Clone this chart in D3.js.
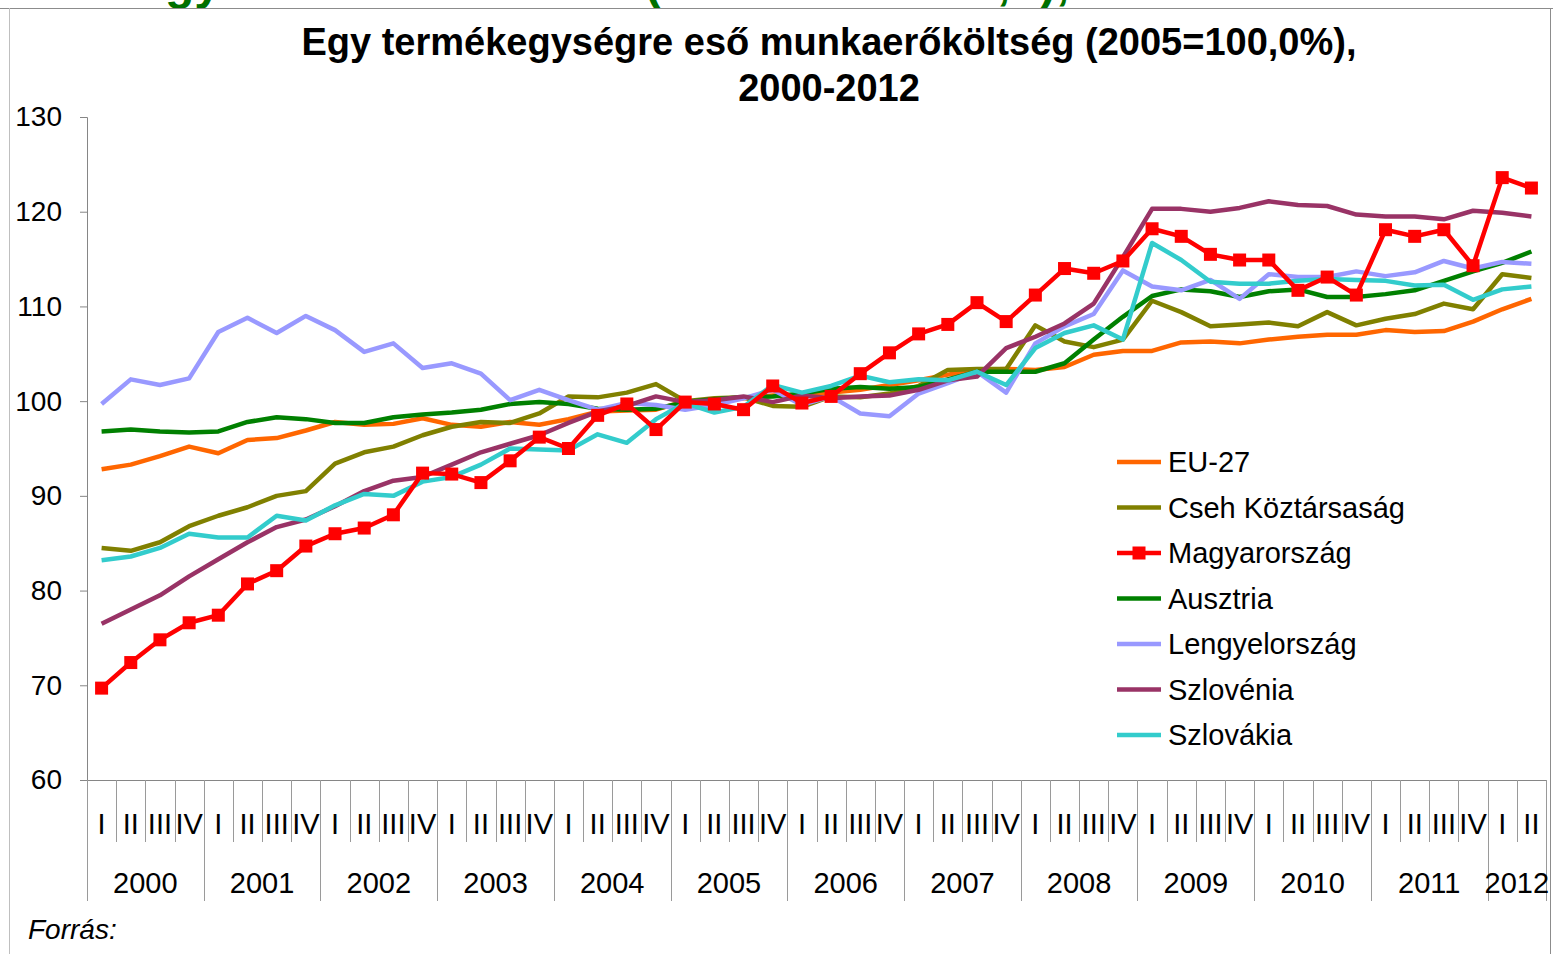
<!DOCTYPE html>
<html>
<head>
<meta charset="utf-8">
<script src="https://cdn.jsdelivr.net/npm/d3@7"></script>
<style>
  body { margin: 0; background: #fff; }
  svg { display: block; font-family: "Liberation Sans", Arial, sans-serif; }
</style>
</head>
<body>
<svg id="chart" width="1553" height="954"></svg>
<script>
/*******************************************************************************************/
// Data (2000 Q1 .. 2012 Q2, 2005 = 100)

var quarterNames = ['I', 'II', 'III', 'IV'];
var years = [2000, 2001, 2002, 2003, 2004, 2005, 2006, 2007, 2008, 2009, 2010, 2011, 2012];
var yTicks = [60, 70, 80, 90, 100, 110, 120, 130];

var eu27 = [92.8, 93.3, 94.2, 95.2, 94.5, 95.9, 96.1, 96.9, 97.8, 97.5,
            97.6, 98.2, 97.5, 97.3, 97.8, 97.5, 98.1, 98.9, 99.0, 99.1,
            100.0, 100.1, 100.3, 100.6, 100.6, 100.9, 101.2, 101.7, 102.2, 102.8,
            103.3, 103.4, 103.3, 103.6, 104.9, 105.3, 105.3, 106.2, 106.3, 106.1,
            106.5, 106.8, 107.0, 107.0, 107.5, 107.3, 107.4, 108.4, 109.7, 110.8];
var cseh = [84.5, 84.2, 85.1, 86.8, 87.9, 88.8, 90.0, 90.5, 93.4, 94.6,
            95.2, 96.4, 97.3, 97.8, 97.7, 98.7, 100.5, 100.4, 100.9, 101.8,
            100.0, 100.3, 100.4, 99.5, 99.4, 100.5, 100.4, 100.8, 101.6, 103.3,
            103.4, 103.4, 108.0, 106.3, 105.7, 106.5, 110.6, 109.4, 107.9, 108.1,
            108.3, 107.9, 109.4, 108.0, 108.7, 109.2, 110.3, 109.7, 113.4, 113.0];
var magyar = [69.7, 72.4, 74.8, 76.6, 77.4, 80.7, 82.1, 84.7, 86.0, 86.6,
              88.0, 92.4, 92.3, 91.4, 93.7, 96.2, 95.0, 98.5, 99.7, 97.0,
              99.9, 99.7, 99.1, 101.6, 99.8, 100.5, 102.9, 105.1, 107.1, 108.1,
              110.4, 108.4, 111.2, 114.0, 113.5, 114.8, 118.2, 117.4, 115.5, 114.9,
              114.9, 111.7, 113.1, 111.2, 118.1, 117.4, 118.1, 114.3, 123.6, 122.5];
var ausztria = [96.8, 97.0, 96.8, 96.7, 96.8, 97.8, 98.3, 98.1, 97.7, 97.7,
                98.3, 98.6, 98.8, 99.1, 99.7, 99.9, 99.7, 99.2, 99.1, 99.2,
                99.9, 100.2, 100.4, 100.5, 100.8, 101.3, 101.5, 101.3, 101.5, 102.3,
                103.1, 103.1, 103.1, 104.0, 106.5, 108.9, 111.1, 111.8, 111.6, 111.0,
                111.6, 111.8, 111.0, 111.0, 111.3, 111.7, 112.7, 113.7, 114.6, 115.8];
var lengyel = [99.7, 102.3, 101.7, 102.4, 107.3, 108.8, 107.2, 109.0, 107.5, 105.2,
               106.1, 103.5, 104.0, 102.9, 100.1, 101.2, 100.1, 99.1, 99.8, 99.6,
               99.1, 99.6, 100.3, 101.2, 99.6, 100.5, 98.7, 98.4, 100.8, 101.9,
               103.1, 100.9, 106.1, 107.9, 109.2, 113.8, 112.1, 111.7, 112.8, 110.8,
               113.4, 113.1, 113.1, 113.7, 113.2, 113.6, 114.8, 114.0, 114.7, 114.5];
var szloven = [76.5, 78.0, 79.5, 81.5, 83.3, 85.1, 86.7, 87.5, 88.9, 90.5,
               91.6, 92.0, 93.3, 94.6, 95.5, 96.4, 97.7, 98.9, 99.5, 100.5,
               99.9, 100.1, 100.5, 99.9, 100.6, 100.3, 100.5, 100.6, 101.2, 102.2,
               102.6, 105.6, 106.8, 108.2, 110.3, 115.2, 120.3, 120.3, 120.0, 120.4,
               121.1, 120.7, 120.6, 119.7, 119.5, 119.5, 119.2, 120.1, 119.9, 119.5];
var szlovak = [83.2, 83.6, 84.5, 86.0, 85.6, 85.6, 87.9, 87.4, 89.0, 90.2,
               90.0, 91.5, 92.0, 93.3, 95.0, 94.9, 94.8, 96.5, 95.6, 98.1,
               99.8, 98.8, 99.4, 101.7, 100.9, 101.6, 102.7, 102.0, 102.3, 102.2,
               103.1, 101.7, 105.6, 107.2, 108.0, 106.5, 116.7, 114.9, 112.6, 112.4,
               112.4, 112.7, 112.9, 112.8, 112.7, 112.2, 112.3, 110.7, 111.8, 112.1];

// legend order; Hungary gets drawn last so its markers sit on top
var series = [
  { name: 'EU-27', values: eu27, color: '#FF6600' },
  { name: 'Cseh Köztársaság', values: cseh, color: '#808000' },
  { name: 'Magyarország', values: magyar, color: '#FF0000', marker: true },
  { name: 'Ausztria', values: ausztria, color: '#008000' },
  { name: 'Lengyelország', values: lengyel, color: '#9999FF' },
  { name: 'Szlovénia', values: szloven, color: '#993366' },
  { name: 'Szlovákia', values: szlovak, color: '#33CCCC' }
];

// quarter list 2000 I .. 2012 II
var quarters = [];
years.forEach(function(yr){
  quarterNames.forEach(function(q){
    if(yr < 2012 || q == 'I' || q == 'II') quarters.push({ year: yr, q: q });
  });
});

/*******************************************************************************************/
// Scales

var svg = d3.select('#chart');
var plotL = 87, plotR = 1546, plotT = 117, plotB = 780;

var xScale = d3.scaleBand().domain(d3.range(quarters.length)).range([plotL, plotR]).paddingInner(0).paddingOuter(0);
var yScale = d3.scaleLinear().domain([60, 130]).range([plotB, plotT]);
var bw = xScale.bandwidth();
var xc = function(i){ return xScale(i) + bw/2; };

/*******************************************************************************************/
// Frame and titles

// slide heading, only its descenders show at the top edge
svg.append('text')
  .attr('y', -1)
  .style('font-size', '48px').style('font-weight', 'bold').style('fill', '#007000')
  .call(function(t){
    t.append('tspan').attr('x', 133).text('Egy');
    t.append('tspan').attr('x', 645).text('(2005=100');
    t.append('tspan').attr('x', 997).text(',');
    t.append('tspan').attr('x', 1040).text('),');
  });

svg.append('line').attr('x1', 0).attr('x2', 1553).attr('y1', 8.5).attr('y2', 8.5).style('stroke', '#8c8c8c');
svg.append('line').attr('x1', 9.5).attr('x2', 9.5).attr('y1', 8).attr('y2', 954).style('stroke', '#bfbfbf');
svg.append('line').attr('x1', 1550.5).attr('x2', 1550.5).attr('y1', 8).attr('y2', 954).style('stroke', '#8c8c8c');

var title = svg.append('text').attr('text-anchor', 'middle')
  .style('font-size', '38px').style('font-weight', 'bold').style('fill', '#000');
title.append('tspan').attr('x', 829).attr('y', 55).text('Egy termékegységre eső munkaerőköltség (2005=100,0%),');
title.append('tspan').attr('x', 829).attr('y', 101).text('2000-2012');

/*******************************************************************************************/
// Axes

var yAxis = svg.append('g').attr('transform', 'translate(' + plotL + ',0)')
  .call(d3.axisLeft(yScale).tickValues(yTicks).tickSize(7).tickPadding(18));
yAxis.selectAll('line, path').style('stroke', '#868686');
yAxis.selectAll('text').style('font-size', '28px').style('fill', '#000')
  .style('font-family', '"Liberation Sans", Arial, sans-serif');

svg.append('line').attr('x1', plotL).attr('x2', plotR).attr('y1', plotB + 0.5).attr('y2', plotB + 0.5)
  .style('stroke', '#868686');

// quarter ticks, longer at year boundaries
var bounds = d3.range(quarters.length + 1);
svg.append('g').selectAll('line').data(bounds).enter().append('line')
  .attr('x1', function(d){ return Math.round(plotL + d*bw) + 0.5; })
  .attr('x2', function(d){ return Math.round(plotL + d*bw) + 0.5; })
  .attr('y1', plotB)
  .attr('y2', function(d){ return (d % 4 == 0 || d == quarters.length) ? 901 : 842; })
  .style('stroke', '#9a9a9a');

svg.append('g').selectAll('text').data(quarters).enter().append('text')
  .attr('x', function(d, i){ return xc(i); })
  .attr('y', 834)
  .attr('text-anchor', 'middle')
  .style('font-size', '29px')
  .text(function(d){ return d.q; });

svg.append('g').selectAll('text').data(years).enter().append('text')
  .attr('x', function(d, i){
    var first = i*4, last = Math.min(i*4 + 3, quarters.length - 1);
    return (xScale(first) + xScale(last) + bw) / 2;
  })
  .attr('y', 893)
  .attr('text-anchor', 'middle')
  .style('font-size', '29px')
  .text(function(d){ return d; });

svg.append('text').attr('x', 28).attr('y', 939)
  .style('font-size', '28px').style('font-style', 'italic')
  .text('Forrás:');

/*******************************************************************************************/
// Lines

var lineGen = d3.line().x(function(d, i){ return xc(i); }).y(function(d){ return yScale(d); });
var drawOrder = [0, 1, 3, 4, 5, 6, 2];

drawOrder.forEach(function(k){
  var s = series[k];
  svg.append('path').datum(s.values)
    .attr('d', lineGen)
    .style('fill', 'none').style('stroke', s.color).style('stroke-width', 4.5)
    .style('stroke-linejoin', 'round');
  if(s.marker){
    svg.append('g').selectAll('rect').data(s.values).enter().append('rect')
      .attr('x', function(d, i){ return xc(i) - 6.5; })
      .attr('y', function(d){ return yScale(d) - 6.5; })
      .attr('width', 13).attr('height', 13)
      .style('fill', s.color);
  }
});

/*******************************************************************************************/
// Legend

var legend = svg.append('g').attr('transform', 'translate(1117,462)');
series.forEach(function(s, i){
  var row = legend.append('g').attr('transform', 'translate(0,' + (i*45.5) + ')');
  row.append('line').attr('x1', 0).attr('x2', 44).attr('y1', 0).attr('y2', 0)
    .style('stroke', s.color).style('stroke-width', 4.5);
  if(s.marker){
    row.append('rect').attr('x', 15.5).attr('y', -6.5).attr('width', 13).attr('height', 13).style('fill', s.color);
  }
  row.append('text').attr('x', 51).attr('y', 10)
    .style('font-size', '29px').text(s.name);
});
</script>
</body>
</html>
